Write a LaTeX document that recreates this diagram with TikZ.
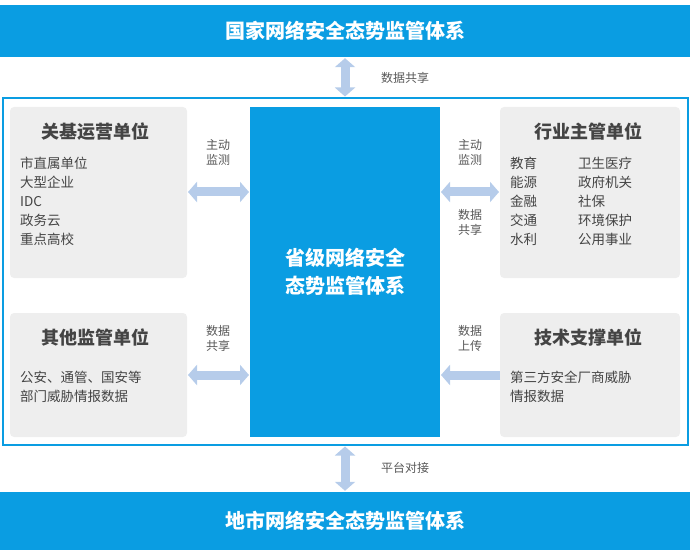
\documentclass[tikz,border=0pt]{standalone}
\usepackage{fontspec}
\setmainfont{Noto Sans CJK SC}
\usetikzlibrary{arrows.meta}
\definecolor{mblue}{HTML}{0A9DE2}
\definecolor{agray}{HTML}{EEEEEE}
\definecolor{lblue}{HTML}{B6CCEA}
\definecolor{tgray}{HTML}{444444}
\tikzset{
 bar/.style={fill=mblue,draw=none,minimum width=690pt,minimum height=52pt,text=white,font=\fontsize{20}{24}\selectfont\bfseries},
 gbox/.style={fill=agray,draw=none,rounded corners=4pt,minimum width=177pt},
 ttl/.style={font=\fontsize{18}{22}\selectfont\bfseries,text=tgray},
 itm/.style={font=\fontsize{13.5}{19}\selectfont,text=tgray,align=left,anchor=west,inner sep=0},
 lbl/.style={font=\fontsize{12}{15}\selectfont,text=tgray!90,align=center},
 dbl/.style={draw=lblue,line width=9pt,{Triangle[length=9pt,width=20pt]}-{Triangle[length=9pt,width=20pt]},shorten <=1pt,shorten >=1pt},
 sgl/.style={draw=lblue,line width=9pt,-{Triangle[length=9pt,width=20pt]},shorten >=1pt}
}
\begin{document}
\begin{tikzpicture}[x=1pt,y=-1pt]
\useasboundingbox (0,0) rectangle (690,553);
\node[bar] (top) at (345,31) {国家网络安全态势监管体系};
\node[bar,minimum height=58pt] (bot) at (345,521) {地市网络安全态势监管体系};
\node[draw=mblue,line width=2pt,minimum width=685pt,minimum height=346pt] (frame) at (345,271.5) {};
\node[gbox,minimum height=171pt] (tl) at (98.5,192.5) {};
\node[gbox,minimum height=124pt] (bl) at (98.5,375) {};
\node[gbox,minimum height=171pt,minimum width=180pt] (tr) at (590,192.5) {};
\node[gbox,minimum height=124pt,minimum width=180pt] (br) at (590,375) {};
\node[fill=mblue,minimum width=190pt,minimum height=330pt,text=white,align=center,font=\fontsize{20}{28}\selectfont\bfseries] (c) at (345,272) {省级网络安全\\态势监管体系};
% titles
\node[ttl] (t1) at (95,132) {关基运营单位};
\node[ttl] (t2) at (95,338) {其他监管单位};
\node[ttl] (t3) at (588,132) {行业主管单位};
\node[ttl] (t4) at (588,338) {技术支撑单位};
% items
\node[itm] (i1) at (20,201) {市直属单位\\大型企业\\IDC\\政务云\\重点高校};
\node[itm] (i2) at (510,201) {教育\\能源\\金融\\交通\\水利};
\node[itm] (i3) at (578,201) {卫生医疗\\政府机关\\社保\\环境保护\\公用事业};
\node[itm] (i4) at (20,387) {公安、通管、国安等\\部门威胁情报数据};
\node[itm] (i5) at (510,387) {第三方安全厂商威胁\\情报数据};
% arrows
\coordinate (a1) at (187,192); \coordinate (a2) at (250,192);
\coordinate (a3) at (187,375); \coordinate (a4) at (250,375);
\coordinate (a5) at (440,192); \coordinate (a6) at (500,192);
\coordinate (a7) at (440,375); \coordinate (a8) at (500,375);
\draw[dbl] (a1) -- (a2);
\draw[dbl] (a3) -- (a4);
\draw[dbl] (a5) -- (a6);
\draw[sgl] (a8) -- (a7);
\draw[dbl] (top.south -| c) -- (frame.north -| c);
\draw[dbl] (frame.south -| c) -- (bot.north -| c);
% labels
\node[lbl] (l1) at (218,152) {主动\\监测};
\node[lbl] (l2) at (470,152) {主动\\监测};
\node[lbl] (l3) at (470,222) {数据\\共享};
\node[lbl] (l4) at (218,338) {数据\\共享};
\node[lbl] (l5) at (470,338) {数据\\上传};
\node[lbl] (l6) at (405,78) {数据共享};
\node[lbl] (l7) at (405,468) {平台对接};
\end{tikzpicture}
\end{document}
